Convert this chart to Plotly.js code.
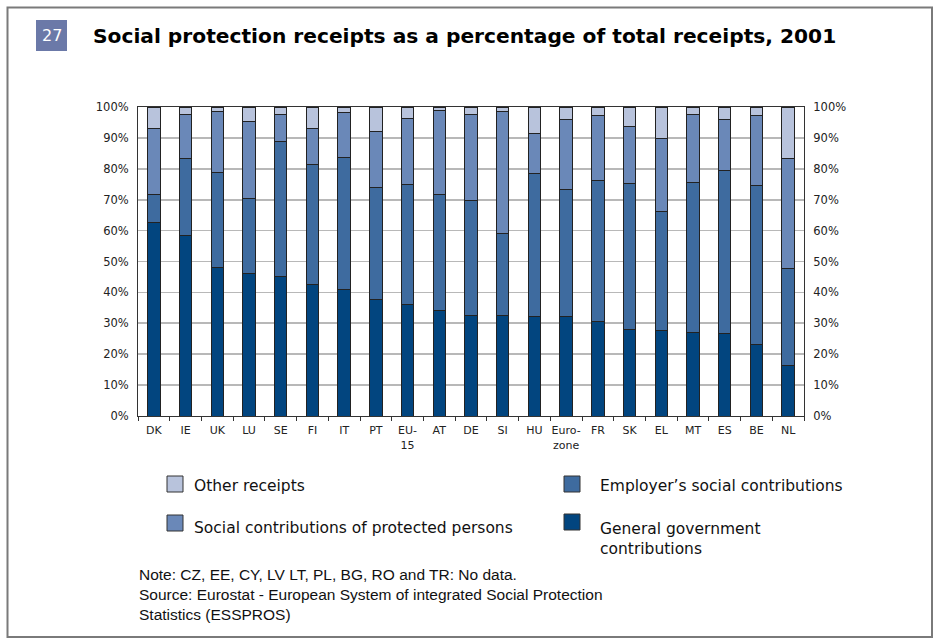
<!DOCTYPE html>
<html>
<head>
<meta charset="utf-8">
<script src="https://cdn.plot.ly/plotly-3.0.1.min.js"></script>
<style>html,body{margin:0;padding:0;background:#fff;}#chart{width:934px;height:643px;}</style>
</head>
<body>
<div id="chart"></div>
<script>
const categories = ["DK","IE","UK","LU","SE","FI","IT","PT","EU-<br>15","AT","DE","SI","HU","Euro-<br>zone","FR","SK","EL","MT","ES","BE","NL"];
const generalGovernment = [62.7,58.3,48.2,46.1,45.0,42.7,41.1,37.7,36.1,34.0,32.6,32.5,32.2,32.2,30.5,28.1,27.8,27.1,26.7,23.2,16.4];
const employers = [9.1,24.9,30.6,24.4,43.7,38.8,42.5,36.4,38.8,37.8,37.2,26.7,46.2,41.0,45.8,47.2,38.4,48.6,52.8,51.3,31.4];
const protectedPersons = [21.1,14.4,19.7,24.7,8.9,11.4,14.5,18.1,21.5,27.1,27.8,39.2,12.9,22.9,20.8,18.4,23.6,21.9,16.6,22.7,35.5];
const otherReceipts = [7.1,2.4,1.5,4.8,2.4,7.1,1.9,7.8,3.6,1.1,2.4,1.6,8.7,3.9,2.9,6.3,10.2,2.4,3.9,2.8,16.7];
const seriesNames = ["General government contributions","Employer’s social contributions","Social contributions of protected persons","Other receipts"];
const yTickVals = [0,10,20,30,40,50,60,70,80,90,100];
const yTickText = ["0%","10%","20%","30%","40%","50%","60%","70%","80%","90%","100%"];

const colors = ["#02457f","#3e6b9f","#6a88b8","#b8c3dc"];
const W = 934, H = 643, L = 138, R = 130, T = 107, B = 227;
const pw = W - L - R, ph = H - T - B;
const px = x => (x - L) / pw;
const py = y => (H - B - y) / ph;

const seriesData = [generalGovernment, employers, protectedPersons, otherReceipts];
const traces = seriesData.map((vals, i) => ({
  type: "bar", x: categories, y: vals, name: seriesNames[i],
  marker: {color: colors[i], line: {color: "#222", width: 1}},
  showlegend: false, hoverinfo: "x+y+name"
}));
traces.push({type:"scatter", x:[categories[0]], y:[0], yaxis:"y2", mode:"lines",
  line:{width:0}, showlegend:false, hoverinfo:"skip"});

const shapes = [
  {type:"rect", xref:"paper", yref:"paper", x0:px(7.5), x1:px(932), y0:py(637), y1:py(7.5),
   line:{color:"#7a7a7a", width:2}, fillcolor:"rgba(0,0,0,0)", layer:"below"},
  {type:"rect", xref:"paper", yref:"paper", x0:px(36), x1:px(67), y0:py(51), y1:py(20),
   line:{width:0}, fillcolor:"#6b79a8"}
];
const annotations = [
  {xref:"paper", yref:"paper", x:px(51.5), y:py(36), text:"27", showarrow:false,
   font:{family:"DejaVu Sans", size:16, color:"#fff"}, xanchor:"center", yanchor:"middle"},
  {xref:"paper", yref:"paper", x:px(91), y:py(36), text:"<b>Social protection receipts as a percentage of total receipts, 2001</b>",
   showarrow:false, font:{family:"DejaVu Sans", size:20.2, color:"#000"}, xanchor:"left", yanchor:"middle"}
];
const legendItems = [
  {s:3, x:167, y:484, tx:192, ty:486, text:"Other receipts"},
  {s:2, x:167, y:523, tx:192, ty:528, text:"Social contributions of protected persons"},
  {s:1, x:564, y:484, tx:598, ty:486, text:"Employer’s social contributions"},
  {s:0, x:564, y:522, tx:598, ty:539, text:"General government<br>contributions"}
];
legendItems.forEach(it => {
  shapes.push({type:"rect", xref:"paper", yref:"paper", x0:px(it.x), x1:px(it.x+16), y0:py(it.y+8), y1:py(it.y-8),
    fillcolor:colors[it.s], line:{color:"#333", width:1}});
  annotations.push({xref:"paper", yref:"paper", x:px(it.tx), y:py(it.ty), text:it.text, showarrow:false,
    xanchor:"left", yanchor:"middle", align:"left", font:{family:"DejaVu Sans", size:15.5, color:"#111"}});
});
annotations.push({xref:"paper", yref:"paper", x:px(137), y:py(594), xanchor:"left", yanchor:"middle", align:"left",
  showarrow:false, font:{family:"Liberation Sans", size:15.5, color:"#111"},
  text:"Note: CZ, EE, CY, LV LT, PL, BG, RO and TR: No data.<br>Source: Eurostat - European System of integrated Social Protection<br>Statistics (ESSPROS)"});

const yax = {range:[0,100], tickvals:yTickVals, ticktext:yTickText, showgrid:true, gridcolor:"#b8b8b8", gridwidth:1.6,
  showline:true, linecolor:"#333", linewidth:1, ticks:"", fixedrange:true, zeroline:false,
  tickfont:{family:"DejaVu Sans", size:11.5, color:"#222"}, ticklabelstandoff:6};

const layout = {
  width:W, height:H, margin:{l:L, r:R, t:T, b:B, pad:0},
  paper_bgcolor:"#fff", plot_bgcolor:"#fff",
  barmode:"stack", bargap:0.61,
  xaxis:{type:"category", range:[-0.5, categories.length - 0.5], autorange:false, tickangle:0,
    showline:true, linecolor:"#333", linewidth:1, mirror:true,
    ticks:"outside", tickson:"boundaries", ticklen:4, tickcolor:"#333", showgrid:false,
    tickfont:{family:"DejaVu Sans", size:11, color:"#222"}, ticklabelstandoff:4},
  yaxis:Object.assign({}, yax, {side:"left"}),
  yaxis2:Object.assign({}, yax, {side:"right", overlaying:"y", showgrid:false}),
  shapes:shapes, annotations:annotations, showlegend:false
};
Plotly.newPlot("chart", traces, layout, {staticPlot:true, displayModeBar:false});
</script>
</body>
</html>
